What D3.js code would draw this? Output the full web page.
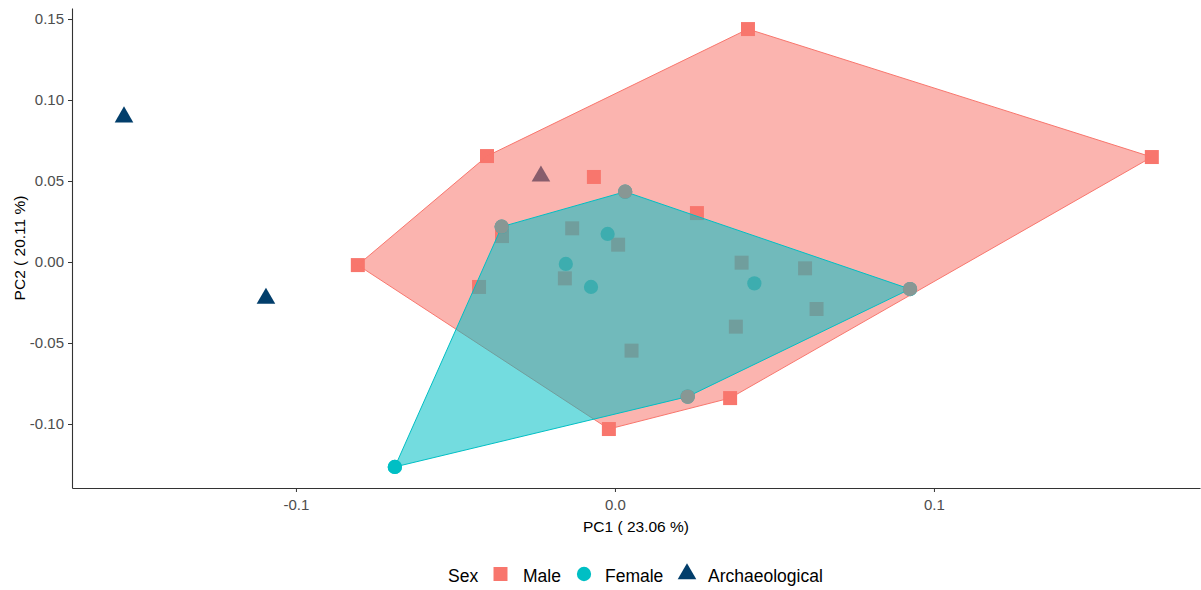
<!DOCTYPE html>
<html>
<head>
<meta charset="utf-8">
<script src="https://cdn.jsdelivr.net/npm/d3@7"></script>
<style>
  body { margin: 0; background: #fff; }
  text { font-family: "Liberation Sans", Arial, sans-serif; }
</style>
</head>
<body>
<div id="container"></div>
<script>
/* CONSTANTS AND GLOBALS */
const width = 1201,
  height = 590,
  margin = { top: 8, right: 1, bottom: 102, left: 72 };

const sexes = ["Male", "Female", "Archaeological"];
const colors = { Male: "#F8766D", Female: "#00BFC4", Archaeological: "#023E6B" };

// PC scores
const maleX = [0.0417, 0.1683, -0.0401, -0.0806, -0.0066, 0.0257, -0.0426, -0.0019, 0.0361,
  -0.0354, -0.0134, 0.0010, -0.0157, 0.0397, 0.0596, 0.0632, 0.0379, 0.0052];
const maleY = [0.1438, 0.0648, 0.0654, -0.0019, 0.0525, 0.0302, -0.0154, -0.1031, -0.0840,
  0.0160, 0.0208, 0.0107, -0.0101, -0.0004, -0.0039, -0.0290, -0.0399, -0.0547];
const femaleX = [-0.0690, -0.0355, 0.0032, -0.0023, -0.0154, -0.0075, 0.0437, 0.0228, 0.0925];
const femaleY = [-0.1265, 0.0218, 0.0434, 0.0173, -0.0012, -0.0154, -0.0132, -0.0831, -0.0167];
const archX = [-0.1539, -0.1094, -0.0232];
const archY = [0.0895, -0.0225, 0.0530];

const xTicks = [-0.1, 0.0, 0.1];
const yTicks = [-0.10, -0.05, 0.00, 0.05, 0.10, 0.15];

const toPoints = (xs, ys, sex) => xs.map((x, i) => ({ x: x, y: ys[i], sex: sex }));
const data = [].concat(
  toPoints(maleX, maleY, "Male"),
  toPoints(femaleX, femaleY, "Female"),
  toPoints(archX, archY, "Archaeological")
);

// plain hyphen for negatives, like R does
const fmt = spec => d => d3.format(spec)(d).replace("\u2212", "-");

// + SCALES
const xScale = d3.scaleLinear()
  .domain([-0.1702, 0.1834])
  .range([margin.left, width - margin.right]);

const yScale = d3.scaleLinear()
  .domain([-0.1395, 0.1568])
  .range([height - margin.bottom, margin.top]);

const symbolFor = {
  Male: d3.symbol().type(d3.symbolSquare).size(196),
  Female: d3.symbol().type(d3.symbolCircle).size(160),
  Archaeological: d3.symbol().type(d3.symbolTriangle).size(150)
};

// + CREATE SVG ELEMENT
const svg = d3.select("#container")
  .append("svg")
  .attr("width", width)
  .attr("height", height);

// + POINTS (drawn under the hulls)
svg.append("g")
  .selectAll("path")
  .data(data)
  .join("path")
  .attr("transform", d => `translate(${xScale(d.x)}, ${yScale(d.y)})`)
  .attr("d", d => symbolFor[d.sex]())
  .attr("fill", d => colors[d.sex]);

// + HULLS
const hulls = {};
["Male", "Female"].forEach(sex => {
  const pts = data.filter(d => d.sex === sex).map(d => [xScale(d.x), yScale(d.y)]);
  hulls[sex] = d3.polygonHull(pts);
  svg.append("path")
    .attr("d", "M" + hulls[sex].join("L") + "Z")
    .attr("fill", colors[sex])
    .attr("fill-opacity", 0.55)
    .attr("stroke", colors[sex])
    .attr("stroke-width", 1);
});

// female points sitting on their own hull show only the male hull tint
const femaleHullPts = data.filter(d => d.sex === "Female" &&
  hulls.Female.some(p => Math.abs(p[0] - xScale(d.x)) < 0.01 && Math.abs(p[1] - yScale(d.y)) < 0.01));
const vtx = svg.append("g");
femaleHullPts.forEach(d => {
  const inMale = d3.polygonContains(hulls.Male, [xScale(d.x), yScale(d.y)]);
  const t = `translate(${xScale(d.x)}, ${yScale(d.y)})`;
  vtx.append("path").attr("transform", t).attr("d", symbolFor.Female()).attr("fill", colors.Female);
  if (inMale) {
    vtx.append("path").attr("transform", t).attr("d", symbolFor.Female())
      .attr("fill", colors.Male).attr("fill-opacity", 0.55);
  }
});

// + AXES
const xAxis = d3.axisBottom(xScale)
  .tickValues(xTicks)
  .tickSize(4)
  .tickSizeOuter(0)
  .tickFormat(fmt(".1f"));
const yAxis = d3.axisLeft(yScale)
  .tickValues(yTicks)
  .tickSize(4)
  .tickSizeOuter(0)
  .tickFormat(fmt(".2f"));

const xAxisGroup = svg.append("g")
  .attr("transform", `translate(0, ${height - margin.bottom})`)
  .call(xAxis);
const yAxisGroup = svg.append("g")
  .attr("transform", `translate(${margin.left}, 0)`)
  .call(yAxis);

[xAxisGroup, yAxisGroup].forEach(g => {
  g.select(".domain").attr("stroke", "#333").attr("stroke-width", 1.1);
  g.selectAll(".tick line").attr("stroke", "#333");
  g.selectAll(".tick text")
    .attr("fill", "#4D4D4D")
    .style("font-size", "15px")
    .style("font-family", "'Liberation Sans', Arial, sans-serif");
});
xAxisGroup.selectAll(".tick text").attr("dy", "15px");
yAxisGroup.selectAll(".tick text").attr("x", -8);

// axis titles
svg.append("text")
  .attr("x", (margin.left + width - margin.right) / 2)
  .attr("y", 532)
  .attr("text-anchor", "middle")
  .style("font-size", "15.5px")
  .text("PC1 ( 23.06 %)");

svg.append("text")
  .attr("transform", `translate(${25}, ${(margin.top + height - margin.bottom) / 2}) rotate(-90)`)
  .attr("text-anchor", "middle")
  .style("font-size", "15.5px")
  .text("PC2 ( 20.11 %)");

// + LEGEND
const legend = svg.append("g").attr("transform", "translate(0, 574)");
legend.append("text")
  .attr("x", 448).attr("y", 7.5)
  .style("font-size", "17.5px")
  .text("Sex");
const keyX = [500.5, 584, 687];
const labelX = [523, 605, 708];
sexes.forEach((sex, i) => {
  legend.append("path")
    .attr("transform", `translate(${keyX[i]}, 0)`)
    .attr("d", symbolFor[sex]())
    .attr("fill", colors[sex]);
  legend.append("text")
    .attr("x", labelX[i]).attr("y", 7.5)
    .style("font-size", "17.5px")
    .text(sex);
});
</script>
</body>
</html>
